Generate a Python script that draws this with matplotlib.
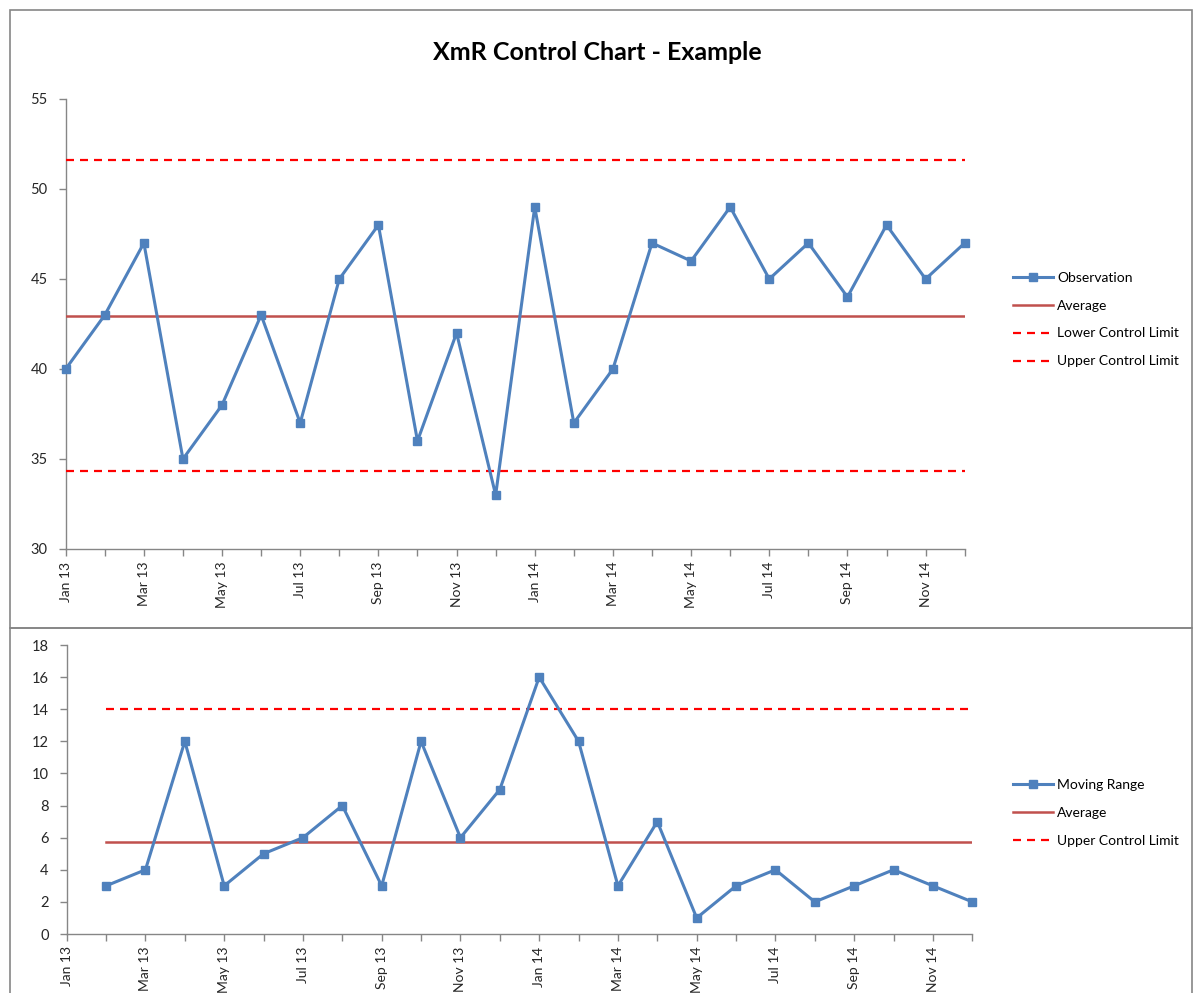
import matplotlib
matplotlib.use("Agg")
import matplotlib.pyplot as plt
from matplotlib.patches import Rectangle

plt.rcParams['font.family'] = ['Lato', 'DejaVu Sans']

months = ["Jan 13", "Feb 13", "Mar 13", "Apr 13", "May 13", "Jun 13", "Jul 13", "Aug 13",
          "Sep 13", "Oct 13", "Nov 13", "Dec 13", "Jan 14", "Feb 14", "Mar 14", "Apr 14",
          "May 14", "Jun 14", "Jul 14", "Aug 14", "Sep 14", "Oct 14", "Nov 14", "Dec 14"]
observation = [40, 43, 47, 35, 38, 43, 37, 45, 48, 36, 42, 33,
               49, 37, 40, 47, 46, 49, 45, 47, 44, 48, 45, 47]
obs_average = 42.96
obs_lcl = 34.35
obs_ucl = 51.6

moving_range = [3, 4, 12, 3, 5, 6, 8, 3, 12, 6, 9, 16,
                12, 3, 7, 1, 3, 4, 2, 3, 4, 3, 2]
mr_average = 5.7
mr_ucl = 14.0

BLUE = "#4F81BD"
DARKRED = "#C0504D"
RED = "#FF0000"
SPINE = "#868686"
TXT = "#262626"

W, H = 1195, 993
fig = plt.figure(figsize=(W / 100, H / 100), dpi=100)

def fx(px):
    return px / W

def fy(py):
    return 1 - py / H

# chart borders
fig.patches.append(Rectangle((fx(10), fy(628)), fx(1192) - fx(10), fy(10) - fy(628),
                             transform=fig.transFigure, fill=False, edgecolor=SPINE, lw=1.2))
fig.patches.append(Rectangle((fx(10), fy(1000)), fx(1192) - fx(10), fy(628) - fy(1000),
                             transform=fig.transFigure, fill=False, edgecolor=SPINE, lw=1.2))

fig.text(0.5, fy(52), "XmR Control Chart - Example", ha="center", va="center",
         fontsize=18, fontweight="bold", color="black")

x_all = list(range(len(months)))
x_mr = list(range(1, len(months)))


def style_axis(ax, ylim, yticks):
    ax.set_xlim(0, len(months) - 1)
    ax.set_ylim(*ylim)
    ax.set_yticks(yticks)
    ax.set_xticks(x_all)
    ax.set_xticklabels([m if i % 2 == 0 else "" for i, m in enumerate(months)],
                       rotation=90, fontsize=10, color=TXT)
    for s in ["top", "right"]:
        ax.spines[s].set_visible(False)
    for s in ["left", "bottom"]:
        ax.spines[s].set_color(SPINE)
        ax.spines[s].set_linewidth(1)
    ax.tick_params(axis="both", colors=SPINE, labelcolor=TXT, length=5, width=1)
    ax.tick_params(axis="y", labelsize=10.5, pad=8)
    ax.tick_params(axis="x", pad=4)
    ax.patch.set_alpha(0)


legend_kw = dict(frameon=False, fontsize=10, handlelength=2.9, handletextpad=0.3,
                 labelspacing=1.15, borderpad=0, borderaxespad=0, loc="center left",
                 bbox_transform=fig.transFigure)

# top chart
ax1 = fig.add_axes([fx(65.7), fy(549), fx(964.7) - fx(65.7), fy(99) - fy(549)])
ax1.plot(x_all, observation, color=BLUE, lw=2.2, marker="s", markersize=6,
         label="Observation", zorder=5, clip_on=False)
ax1.plot([x_all[0], x_all[-1]], [obs_average] * 2, color=DARKRED, lw=1.8, label="Average", zorder=3)
ax1.plot([x_all[0], x_all[-1]], [obs_lcl] * 2, color=RED, lw=1.6, dashes=(3.6, 2.7),
         label="Lower Control Limit", zorder=3)
ax1.plot([x_all[0], x_all[-1]], [obs_ucl] * 2, color=RED, lw=1.6, dashes=(3.6, 2.7),
         label="Upper Control Limit", zorder=3)
style_axis(ax1, (30, 55), [30, 35, 40, 45, 50, 55])
ax1.legend(bbox_to_anchor=(fx(1013), fy(319.5)), **legend_kw)

# bottom chart
ax2 = fig.add_axes([fx(66.7), fy(934), fx(972.3) - fx(66.7), fy(645) - fy(934)])
ax2.plot(x_mr, moving_range, color=BLUE, lw=2.2, marker="s", markersize=6,
         label="Moving Range", zorder=5, clip_on=False)
ax2.plot([x_mr[0], x_mr[-1]], [mr_average] * 2, color=DARKRED, lw=1.8, label="Average", zorder=3)
ax2.plot([x_mr[0], x_mr[-1]], [mr_ucl] * 2, color=RED, lw=1.6, dashes=(3.6, 2.7),
         label="Upper Control Limit", zorder=3)
style_axis(ax2, (0, 18), list(range(0, 19, 2)))
ax2.legend(bbox_to_anchor=(fx(1013), fy(813)), **legend_kw)

fig.savefig("out.png", dpi=100)
